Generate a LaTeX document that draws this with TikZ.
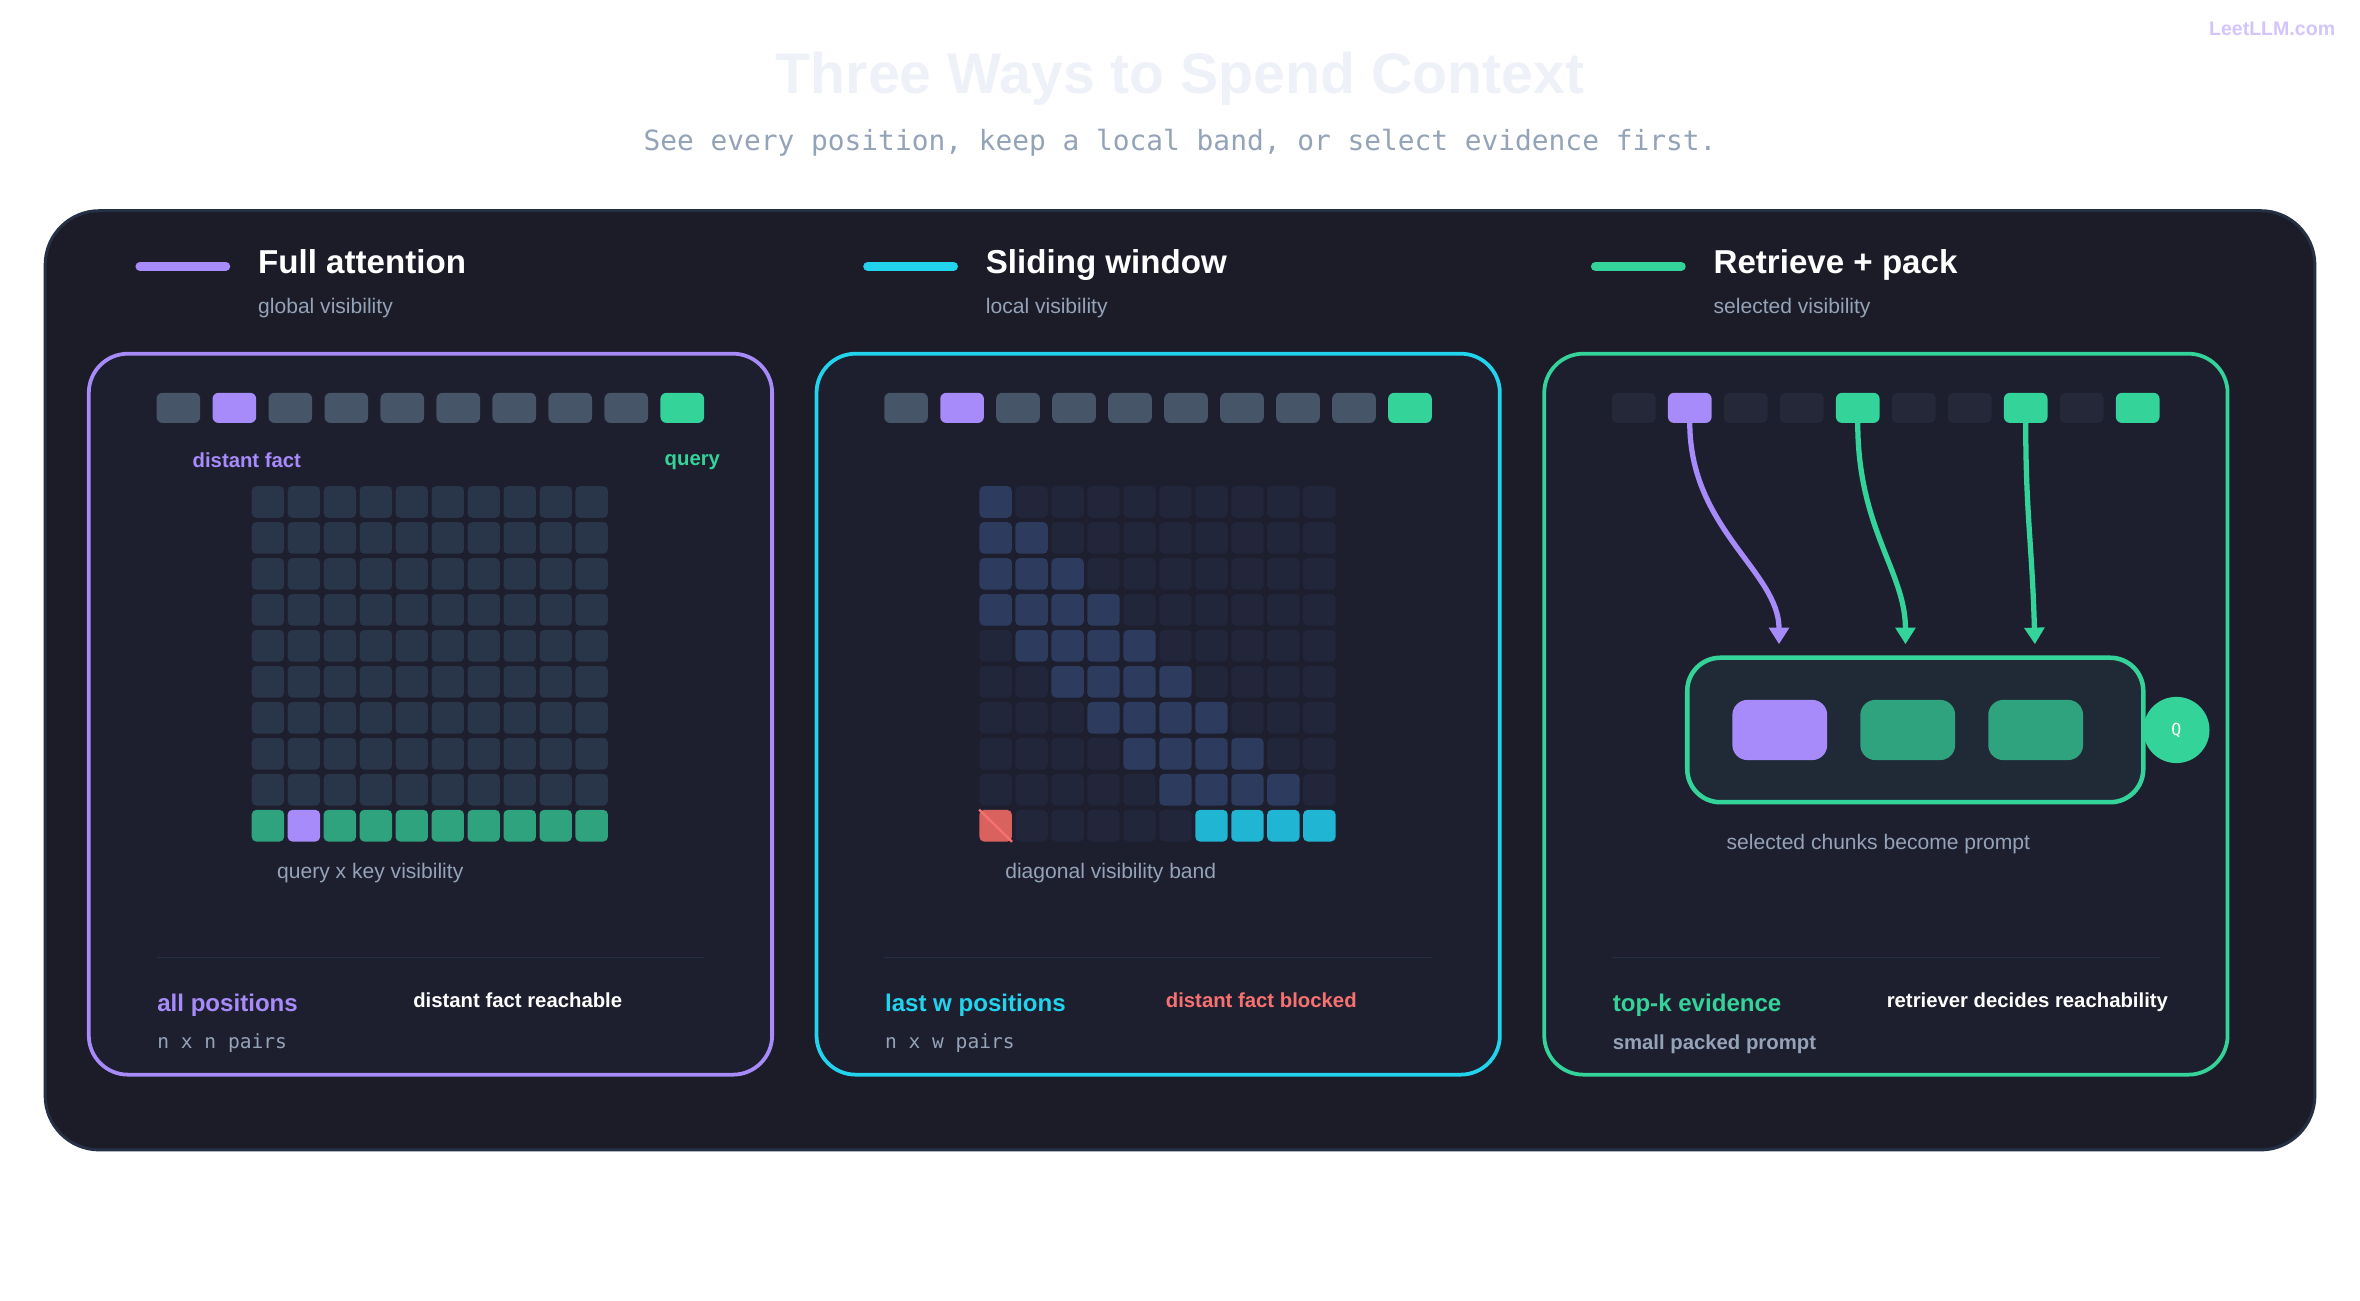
\documentclass[tikz,border=0pt]{standalone}
\usepackage{fontspec}
\setmainfont{Liberation Sans}
\setmonofont{DejaVu Sans Mono}
\usetikzlibrary{arrows.meta,positioning}
\definecolor{bgpanel}{HTML}{1C1C28}
\definecolor{card}{HTML}{1E1F2E}
\definecolor{packbg}{HTML}{1F2A36}
\definecolor{purp}{HTML}{A78BFA}
\definecolor{cyanc}{HTML}{22D3EE}
\definecolor{grn}{HTML}{34D399}
\definecolor{grnd}{HTML}{2EA37D}
\definecolor{cyand}{HTML}{1FB5D3}
\definecolor{tokg}{HTML}{475569}
\definecolor{tokd}{HTML}{252838}
\definecolor{cellc}{HTML}{293548}
\definecolor{cellb}{HTML}{2C3B5E}
\definecolor{celld}{HTML}{22263A}
\definecolor{muted}{HTML}{94A3B8}
\definecolor{redc}{HTML}{F87171}
\definecolor{redd}{HTML}{D9625F}
\definecolor{rule}{HTML}{263044}
\definecolor{titlec}{HTML}{EEF2F8}
\tikzset{
  tok/.style={rounded corners=4pt,minimum width=29pt,minimum height=20pt,inner sep=0pt,fill=#1},
  cell/.style={rounded corners=3pt,minimum width=21.5pt,minimum height=21pt,inner sep=0pt,fill=#1},
  card/.style={draw=#1,line width=2.5pt,fill=card,rounded corners=26pt},
  head/.style={font=\bfseries\fontsize{22}{26}\selectfont,text=white,anchor=west,text depth=4pt},
  sub/.style={font=\fontsize{14}{17}\selectfont,text=muted,anchor=west},
  lbl/.style={font=\bfseries\fontsize{13.5}{16}\selectfont,text=#1,text depth=3pt},
  gridcap/.style={font=\fontsize{14}{16}\selectfont,text=muted},
  mono/.style={font=\ttfamily\fontsize{13}{16}\selectfont,text=muted,anchor=west},
  link/.style={line width=3.5pt,draw=#1,line cap=round,-{Triangle[length=11pt,width=13pt,fill=#1]}}
}
\begin{document}
\begin{tikzpicture}[x=1pt,y=-1pt]
\useasboundingbox (0,0) rectangle (1568,864);
\fill[white] (0,0) rectangle (1568,864);
% heading
\node[font=\bfseries\fontsize{38}{44}\selectfont,text=titlec] (title) at (784,52) {Three Ways to Spend Context};
\node[font=\ttfamily\fontsize{18.5}{22}\selectfont,text=muted] (subtitle) at (784,95) {See every position, keep a local band, or select evidence first.};
\node[font=\bfseries\fontsize{13}{16}\selectfont,text=purp!50,anchor=east] (brand) at (1555,19) {LeetLLM.com};
% outer panel
\draw[fill=bgpanel,draw=rule,line width=2pt,rounded corners=36pt] (30,140) rectangle (1538,764);
% three cards
\foreach \dx/\col in {0/purp,483.5/cyanc,967/grn}{
  \draw[card=\col] (59+\dx,235) rectangle (513+\dx,714);
  \draw[line width=6pt,line cap=round,draw=\col] (93+\dx,177) -- (150+\dx,177);
  \draw[rule,line width=1pt] (104+\dx,636) -- (468+\dx,636);
}
\node[head] (h1) at (168,176) {Full attention};
\node[sub] (s1) at (168,205) {global visibility};
\node[head] (h2) at (651.5,176) {Sliding window};
\node[sub] (s2) at (651.5,205) {local visibility};
\node[head] (h3) at (1135,176) {Retrieve + pack};
\node[sub] (s3) at (1135,205) {selected visibility};

% token rows
\foreach \i in {0,...,9}{
  \pgfmathsetmacro{\tx}{118.5+37.2*\i}
  \ifnum\i=1 \def\ca{purp}\def\cc{purp}\else\ifnum\i=9 \def\ca{grn}\def\cc{grn}\else\def\ca{tokg}\def\cc{tokd}\fi\fi
  \ifnum\i=4 \def\cc{grn}\fi
  \ifnum\i=7 \def\cc{grn}\fi
  \node[tok=\ca] (a\i) at (\tx,271) {};
  \node[tok=\ca] (b\i) at (\tx+483.5,271) {};
  \node[tok=\cc] (c\i) at (\tx+967,271) {};
}
\node[lbl=purp] (fact) at (164,307) {distant fact};
\node[lbl=grn] (query) at (460,307) {query};

% full attention grid
\foreach \r in {0,...,9}{
  \foreach \c in {0,...,9}{
    \pgfmathsetmacro{\gx}{178+23.9*\c}
    \pgfmathsetmacro{\gy}{333.5+23.9*\r}
    \ifnum\r=9 \ifnum\c=1 \def\gc{purp}\else\def\gc{grnd}\fi\else\def\gc{cellc}\fi
    \node[cell=\gc] (f\r-\c) at (\gx,\gy) {};
  }
}
% sliding window grid
\foreach \r in {0,...,9}{
  \foreach \c in {0,...,9}{
    \pgfmathsetmacro{\gx}{178+23.9*\c+483.5}
    \pgfmathsetmacro{\gy}{333.5+23.9*\r}
    \def\gc{celld}
    \ifnum\r<9 \ifnum\c>\numexpr\r-4\relax \ifnum\c<\numexpr\r+1\relax \def\gc{cellb}\fi\fi\fi
    \ifnum\r=9 \ifnum\c>5 \def\gc{cyand}\fi\ifnum\c=0 \def\gc{redd}\fi\fi
    \node[cell=\gc] (w\r-\c) at (\gx,\gy) {};
  }
}
\draw[redc,line width=1.5pt] (w9-0.north west) -- (w9-0.south east);
\node[gridcap] (capf) at (246,580) {query x key visibility};
\node[gridcap] (capw) at (738,580) {diagonal visibility band};

% retrieve + pack
\node[draw=grn,line width=3pt,fill=packbg,rounded corners=22pt,minimum width=303pt,minimum height=96pt] (pack) at (1272.5,485) {};
\node[rounded corners=10pt,minimum width=63pt,minimum height=40pt,fill=purp] (k1) at (1182.5,485) {};
\node[rounded corners=10pt,minimum width=63pt,minimum height=40pt,fill=grnd] (k2) at (1267.5,485) {};
\node[rounded corners=10pt,minimum width=63pt,minimum height=40pt,fill=grnd] (k3) at (1352.5,485) {};
\node[circle,fill=grn,minimum size=44pt,inner sep=0pt,text=white,font=\ttfamily\fontsize{11}{13}\selectfont] (q) at (1446,485) {Q};
\coordinate (e1) at (1182,428);
\coordinate (e2) at (1266,428);
\coordinate (e3) at (1352,428);
\draw[link=purp] (c1.south) .. controls +(0,70) and (1182,380) .. (e1);
\draw[link=grn] (c4.south) .. controls +(0,70) and (1266,380) .. (e2);
\draw[link=grn] (c7.south) .. controls +(0,60) and (1350,360) .. (e3);
\node[gridcap] (capr) at (1248,561) {selected chunks become prompt};

% footers
\node[lbl=purp,font=\bfseries\fontsize{16}{18}\selectfont,anchor=west] (fa) at (101,668) {all positions};
\node[lbl=white] (fb) at (344,666) {distant fact reachable};
\node[mono] (fc) at (101,693) {n x n pairs};
\node[lbl=cyanc,font=\bfseries\fontsize{16}{18}\selectfont,anchor=west] (wa) at (584.5,668) {last w positions};
\node[lbl=redc] (wb) at (838,666) {distant fact blocked};
\node[mono] (wc) at (584.5,693) {n x w pairs};
\node[lbl=grn,font=\bfseries\fontsize{16}{18}\selectfont,anchor=west] (ra) at (1068,668) {top-k evidence};
\node[lbl=white] (rb) at (1347,666) {retriever decides reachability};
\node[lbl=muted,anchor=west] (rc) at (1068,694) {small packed prompt};
\end{tikzpicture}
\end{document}
